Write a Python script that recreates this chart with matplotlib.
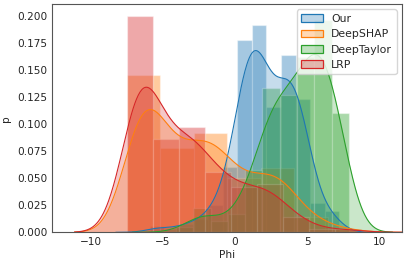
import math
import numpy as np
import matplotlib
matplotlib.use("Agg")
import matplotlib.pyplot as plt
from matplotlib.patches import Patch
from matplotlib.colors import to_rgba

# ---- data ----
labels = ["Our", "DeepSHAP", "DeepTaylor", "LRP"]
colors = ["#1f77b4", "#ff7f0e", "#2ca02c", "#d62728"]

our_start, our_width = -5.894, 1.009
our_heights = [0.006, 0.003, 0.008, 0.012, 0.025, 0.060, 0.1775, 0.191,
               0.116, 0.1637, 0.123, 0.027, 0.020]

shap_start, shap_width = -7.5, 2.32
shap_heights = [0.145, 0.0775, 0.0915, 0.050, 0.059, 0.0144, 0.003]

taylor_start, taylor_width = -4.09, 1.198
taylor_heights = [0.005, 0.0227, 0.010, 0.017, 0.0575, 0.133, 0.127,
                  0.162, 0.196, 0.110]

lrp_start, lrp_width = -7.5, 1.8
lrp_heights = [0.200, 0.086, 0.0975, 0.056, 0.0415, 0.045, 0.0144, 0.003, 0.003]

kde_bw = [0.78, 1.2, 1.0, 1.2]

series = [
    (our_start, our_width, our_heights),
    (shap_start, shap_width, shap_heights),
    (taylor_start, taylor_width, taylor_heights),
    (lrp_start, lrp_width, lrp_heights),
]

_erf = np.vectorize(math.erf)


def Phi(z):
    return 0.5 * (1.0 + _erf(z / math.sqrt(2.0)))


def smooth_density(start, width, heights, sigma, x):
    h = np.asarray(heights, float)
    a = start + width * np.arange(len(h))
    b = a + width
    y = np.zeros_like(x)
    for hi, ai, bi in zip(h, a, b):
        y += hi * (Phi((x - ai) / sigma) - Phi((x - bi) / sigma))
    return y


text_c = "#262626"
plt.rcParams.update({
    "font.family": ["DejaVu Sans"],
    "font.size": 7.6,
    "text.color": text_c,
    "axes.labelcolor": text_c,
    "xtick.color": text_c,
    "ytick.color": text_c,
})

fig = plt.figure(figsize=(4.07, 2.65), dpi=100)
ax = fig.add_axes([52 / 407, 1 - 232.3 / 265, 350 / 407, 228.3 / 265])

# histograms
for (start, width, heights), c in zip(series, colors):
    lefts = start + width * np.arange(len(heights))
    ax.bar(lefts, heights, width=width, align="edge", color=c, alpha=0.4,
           edgecolor="white", linewidth=0.9)

# smoothed densities
for (start, width, heights), c, bw in zip(series, colors, kde_bw):
    x = np.linspace(start - 3 * bw, start + width * len(heights) + 3 * bw, 400)
    y = smooth_density(start, width, heights, bw, x)
    ax.fill_between(x, 0, y, color=c, alpha=0.25, linewidth=0)
    ax.plot(x, y, color=c, linewidth=0.8)

ax.set_xlim(-12.67, 11.56)
ax.set_ylim(0, 0.2108)
ax.set_yticks([0.0, 0.025, 0.05, 0.075, 0.1, 0.125, 0.15, 0.175, 0.2])
ax.set_yticklabels(["0.000", "0.025", "0.050", "0.075", "0.100", "0.125",
                    "0.150", "0.175", "0.200"])
ax.set_xticks([-10, -5, 0, 5, 10])
ax.set_xticklabels(["\u221210", "\u22125", "0", "5", "10"])
ax.tick_params(length=0, pad=3.5)
for s in ax.spines.values():
    s.set_color("#555555")
    s.set_linewidth(0.8)
ax.set_xlabel("Phi", labelpad=2)
ax.set_ylabel("p", labelpad=4)

handles = [Patch(facecolor=to_rgba(c, 0.3), edgecolor=c, linewidth=0.9)
           for c in colors]
ax.legend(handles, labels, loc="upper right", fontsize=7.8, labelspacing=0.5,
          borderaxespad=0.5, framealpha=0.8)

fig.savefig("out.png", dpi=100)
